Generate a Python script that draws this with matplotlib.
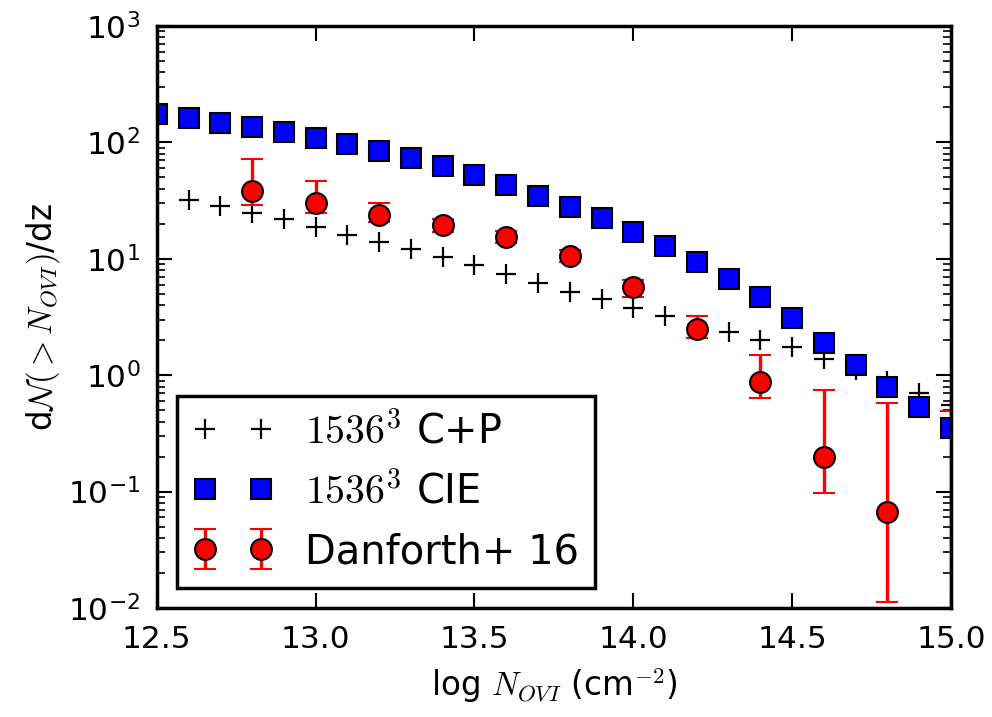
import matplotlib
matplotlib.use('Agg')
import matplotlib.pyplot as plt
import numpy as np

plt.rcParams['mathtext.fontset'] = 'cm'
plt.rcParams['font.family'] = 'DejaVu Sans'
plt.rcParams['axes.unicode_minus'] = False

# 1536^3 C+P (plus markers)
cp_x = [12.6, 12.7, 12.8, 12.9, 13.0, 13.1, 13.2, 13.3, 13.4, 13.5, 13.6, 13.7, 13.8,
        13.9, 14.0, 14.1, 14.2, 14.3, 14.4, 14.5, 14.6, 14.7, 14.8, 14.9, 15.0]
cp_y = [32.0, 28.4, 24.7, 22.0, 18.8, 16.0, 13.9, 12.1, 10.4, 8.8, 7.4, 6.2, 5.2,
        4.5, 3.8, 3.2, 2.7, 2.35, 2.0, 1.75, 1.38, 1.11, 0.90, 0.70, 0.55]

# 1536^3 CIE (squares)
cie_x = [12.5, 12.6, 12.7, 12.8, 12.9, 13.0, 13.1, 13.2, 13.3, 13.4, 13.5, 13.6, 13.7,
         13.8, 13.9, 14.0, 14.1, 14.2, 14.3, 14.4, 14.5, 14.6, 14.7, 14.8, 14.9, 15.0]
cie_y = [175, 162, 147, 136, 123, 109, 97, 84, 73, 63, 52, 43, 34.7,
         27.9, 22.4, 17.0, 12.9, 9.4, 6.7, 4.7, 3.1, 1.89, 1.22, 0.79, 0.53, 0.35]

# Danforth+ 16 (observations with error bars)
d_x = [12.8, 13.0, 13.2, 13.4, 13.6, 13.8, 14.0, 14.2, 14.4, 14.6, 14.8, 15.0]
d_y = [38.2, 30.0, 23.8, 19.5, 15.5, 10.6, 5.7, 2.50, 0.87, 0.20, 0.0664, 0.003]
d_lo = [29.0, 24.6, 20.7, 17.0, 13.6, 9.4, 4.7, 2.10, 0.64, 0.0966, 0.01135, 0.002]
d_hi = [72.0, 46.9, 30.1, 22.0, 17.4, 11.9, 6.6, 3.23, 1.48, 0.74, 0.58, 0.49]

xticks = [12.5, 13.0, 13.5, 14.0, 14.5, 15.0]
xticklabels = ['12.5', '13.0', '13.5', '14.0', '14.5', '15.0']

fig = plt.figure(figsize=(9.92, 7.17), dpi=100)
ax = fig.add_axes([0.158, 0.152, 0.8007, 0.8117])

ax.plot(cp_x, cp_y, '+', color='k', ms=14, mew=1.6, label=r'$1536^3$ C+P')
ax.plot(cie_x, cie_y, 's', color='b', mfc='b', mec='k', ms=15, mew=1.5,
        label=r'$1536^3$ CIE')
yerr = [np.array(d_y) - np.array(d_lo), np.array(d_hi) - np.array(d_y)]
ax.errorbar(d_x, d_y, yerr=yerr, fmt='o', color='r', mfc='r', mec='k', ms=15,
            mew=1.5, ecolor='r', elinewidth=2.4, capsize=8, capthick=2.4,
            label='Danforth+ 16')

ax.set_yscale('log')
ax.set_xlim(12.5, 15.0)
ax.set_ylim(1e-2, 1e3)
ax.set_xticks(xticks)
ax.set_xticklabels(xticklabels)

ax.tick_params(which='both', direction='in', top=True, right=True)
ax.tick_params(which='major', length=11, width=1.5, labelsize=22.5, pad=12)
ax.tick_params(which='minor', length=6, width=1.2)
for s in ax.spines.values():
    s.set_linewidth(2.5)

ax.set_xlabel(r'log $N_{OVI}$ (cm$^{-2}$)', fontsize=23.5, labelpad=9)
ax.set_ylabel(r'd$\mathcal{N}(>N_{OVI})$/dz', fontsize=23.5)

leg = ax.legend(loc='lower left', numpoints=2, fontsize=28.8, fancybox=False,
                borderpad=0.4, labelspacing=0.5, handlelength=2.0,
                handletextpad=0.8, borderaxespad=0.5, framealpha=1)
leg.get_frame().set_edgecolor('k')
leg.get_frame().set_linewidth(2.5)

fig.savefig('out.png', dpi=100)
